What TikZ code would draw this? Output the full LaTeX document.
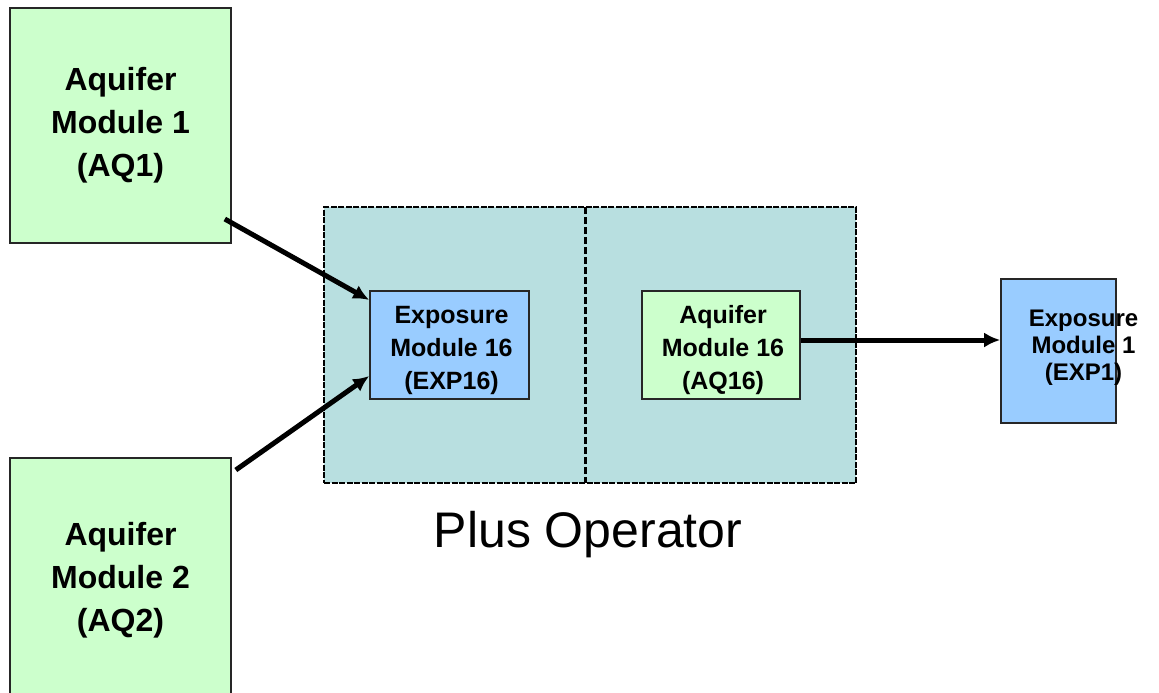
\documentclass[tikz,border=0pt]{standalone}
\usepackage{fontspec}
\setmainfont{Liberation Sans}
\usetikzlibrary{arrows.meta,calc}
\definecolor{aqgreen}{HTML}{CCFFCC}
\definecolor{expblue}{HTML}{99CCFF}
\definecolor{opteal}{HTML}{B8DFE0}
\begin{document}
\begin{tikzpicture}[x=1pt,y=-1pt,
  box/.style={draw=black!85, line width=1.6pt, inner sep=0pt, align=center},
  bigbox/.style={box, fill=aqgreen, minimum width=221pt, minimum height=235pt,
    font=\fontsize{32}{43}\selectfont\bfseries},
  smallbox/.style={box, minimum width=158pt, minimum height=108pt},
  smalltext/.style={font=\fontsize{25}{33}\selectfont\bfseries, align=center, yshift=-5pt},
  flow/.style={line width=5pt, -{Latex[length=16pt,width=15pt]}}]
\useasboundingbox (0,0) rectangle (1159,693);
\clip (0,0) rectangle (1159,693);
\fill[white] (0,0) rectangle (1159,693);
% operator box
\node[fill=opteal, draw=black, line width=2.6pt, dash pattern=on 6pt off 1.5pt,
  minimum width=532pt, minimum height=276pt, inner sep=0pt] (op) at (590,345) {};
\coordinate (divtop) at (585,207);
\coordinate (divbot) at (585,483);
\draw[line width=3pt, dash pattern=on 7pt off 3pt] (divtop) -- (divbot);
% boxes
\node[bigbox] (aq1) at (120.5,125.5) {Aquifer\\Module 1\\(AQ1)};
\node[bigbox, minimum height=244pt] (aq2) at (120.5,580) {Aquifer\\Module 2\\(AQ2)};
\node[smallbox, fill=expblue, minimum width=159pt,
  label={[smalltext, xshift=2pt]center:Exposure\\Module 16\\(EXP16)}] (exp16) at (449.5,345) {};
\node[smallbox, fill=aqgreen,
  label={[smalltext, xshift=2pt]center:Aquifer\\Module 16\\(AQ16)}] (aq16) at (721,345) {};
\node[box, fill=expblue, minimum width=115pt, minimum height=144pt,
  label={[font=\fontsize{24}{27}\selectfont\bfseries, align=center, xshift=25pt, yshift=3pt]center:Exposure\\Module 1\\(EXP1)}]
  (exp1) at (1058.5,351) {};
% title
\node[anchor=base, font=\fontsize{50}{60}\selectfont, inner sep=0pt] (title) at (588,547) {Plus Operator};
% arrows
\draw[flow] ([shift={(-7,93.5)}]aq1.east) -- ([shift={(0,-45)}]exp16.west);
\draw[flow] ([shift={(4,-110)}]aq2.east) -- ([shift={(0,31)}]exp16.west);
\draw[flow] ([shift={(0,-5)}]aq16.east) -- ([shift={(0,-11)}]exp1.west);
\end{tikzpicture}
\end{document}
